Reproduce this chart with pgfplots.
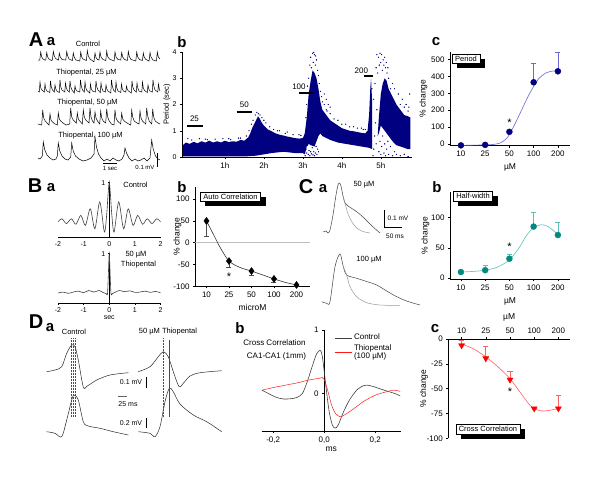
\documentclass[border=0pt]{standalone}
\usepackage{fontspec}
\setmainfont{Liberation Sans}
\usepackage{pgfplots}
\pgfplotsset{compat=1.18}
\usetikzlibrary{shadows}
\definecolor{navyb}{HTML}{000080}
\definecolor{fitblue}{HTML}{6A6AD0}
\definecolor{tealp}{HTML}{008B80}
\definecolor{tealfit}{HTML}{5CC0B8}
\definecolor{redp}{HTML}{FF0000}
\definecolor{redfit}{HTML}{FF6060}
\newcommand{\fs}[1]{\fontsize{#1}{#1}\selectfont}

\pgfplotsset{
  panel/.style={scale only axis, anchor=south west,
    axis x line*=bottom, axis y line*=left,
    tick align=outside, major tick length=2pt,
    tick style={black, line width=0.5pt},
    axis line style={black, line width=0.6pt},
    tick label style={font=\fs{8}},
    label style={font=\fs{8.5}},
    /pgf/number format/assume math mode=true, clip=false},
  catticks/.style={xtick={0,...,4}, xticklabels={10,25,50,100,200}},
  % rotated y label: right edge #1 left of the axis line
  ylab/.style={ylabel style={at={(axis description cs:0,0.5)}, anchor=south, yshift=#1}},
}
\tikzset{
  lbox/.style={draw=black, line width=0.5pt, fill=white, font=\fs{7.5},
    inner xsep=3pt, inner ysep=2pt,
    drop shadow={shadow xshift=5pt, shadow yshift=-5pt, fill=black, opacity=1}},
  plab/.style={font=\bfseries\fs{15}},
  big/.style={font=\bfseries\fs{20}},
  txt/.style={font=\fs{7.5}},
}

\begin{document}
\begin{tikzpicture}
\path[use as bounding box] (0,0) rectangle (600pt,491pt);

% ---------- A b : period vs time
\begin{axis}[panel, at={(182pt,334pt)}, width=230pt, height=105pt,
  xmin=-0.1, xmax=5.8, ymin=0, ymax=4, ytick={0,1,2,3,4},
  xtick={1,2,3,4,5}, xticklabels={1h,2h,3h,4h,5h},
  yticklabel style={font=\fs{7}}, ylabel={Period (sec)}, ylab=8pt,
  ylabel style={font=\fs{7.5}}]
\addplot[fill=navyb, draw=none] coordinates {
 (-0.08,0.45)(0,0.55)(0.1,0.5)(0.2,0.58)(0.3,0.52)(0.4,0.6)(0.5,0.55)(0.6,0.62)
 (0.7,0.55)(0.8,0.6)(0.9,0.55)(1.0,0.62)(1.1,0.57)(1.2,0.6)(1.3,0.58)(1.4,0.65)
 (1.5,0.62)(1.6,0.75)(1.65,0.9)(1.7,1.1)(1.75,1.25)(1.8,1.4)(1.85,1.55)(1.9,1.45)
 (1.95,1.3)(2.0,1.2)(2.1,1.05)(2.2,0.98)(2.3,0.9)(2.4,0.85)(2.5,0.82)(2.6,0.78)
 (2.7,0.75)(2.8,0.72)(2.9,0.7)(3.0,0.72)(3.05,0.9)(3.1,1.5)(3.15,2.4)(3.2,2.9)
 (3.25,3.3)(3.3,3.2)(3.35,3.0)(3.4,2.6)(3.45,2.1)(3.5,1.8)(3.6,1.6)(3.7,1.4)
 (3.8,1.3)(3.9,1.2)(4.0,1.1)(4.1,1.05)(4.2,1.0)(4.3,0.98)(4.4,0.95)(4.5,0.92)
 (4.6,0.9)(4.66,1.0)(4.7,1.6)(4.73,2.6)(4.75,3.0)(4.78,2.0)(4.78,0.3)
 (4.7,0.35)(4.5,0.4)(4.3,0.45)(4.1,0.5)(3.9,0.55)(3.7,0.65)(3.5,0.8)(3.45,0.9)
 (3.4,0.8)(3.35,0.6)(3.3,0.4)(3.2,0.45)(3.15,0.5)(3.1,0.4)(3.05,0.1)(3.0,0.15)
 (2.8,0.15)(2.5,0.2)(2.2,0.15)(2.0,0.1)(1.8,0.05)(1.5,0.02)(1.0,0.02)(0,0.02)(-0.08,0.02)
} --cycle;
\addplot[fill=navyb, draw=none] coordinates {
 (4.92,0.8)(4.95,1.5)(5.0,2.4)(5.05,2.8)(5.1,3.0)(5.15,2.9)(5.2,2.6)(5.3,2.3)
 (5.4,2.0)(5.5,1.8)(5.6,1.6)(5.7,1.55)(5.76,1.5)(5.76,0.3)
 (5.7,0.3)(5.6,0.35)(5.5,0.4)(5.4,0.45)(5.3,0.6)(5.2,0.8)(5.1,1.0)(5.0,1.2)(4.95,0.9)
} --cycle;
\addplot[only marks, mark=*, mark size=0.4pt, navyb] coordinates {
 (3.06,0.05)(3.08,0.3)(3.1,0.15)(3.12,0.45)(3.14,0.1)(3.16,0.25)(3.18,0.05)(3.2,0.2)
 (3.22,0.12)(3.24,0.35)(3.26,0.08)(3.28,0.2)(3.3,0.05)(3.32,0.15)(3.34,0.4)(3.36,0.1)
 (3.38,0.3)(3.4,0.2)(3.15,3.0)(3.18,3.5)(3.2,3.8)(3.22,3.4)(3.25,3.95)(3.27,3.6)
 (3.3,3.9)(3.32,3.5)(3.35,3.7)(3.38,3.3)(3.4,3.1)(3.42,2.8)(3.45,2.5)(3.48,2.3)
 (3.5,2.1)(3.12,2.7)(3.1,2.0)(3.08,1.5)(3.28,3.98)(3.33,3.85)
 (4.8,0.05)(4.82,0.3)(4.84,0.8)(4.86,1.3)(4.88,0.5)(4.9,1.8)(4.82,2.2)(4.85,2.8)
 (4.88,3.4)(4.9,3.9)(4.92,3.2)(4.94,3.8)(4.96,3.5)(4.98,3.95)(5.0,3.6)(5.02,3.9)
 (5.04,3.3)(5.06,3.7)(5.08,3.5)(5.1,3.8)(5.12,3.4)(5.14,3.6)(5.16,3.2)(5.18,3.4)
 (5.2,3.0)(4.95,0.2)(4.98,0.6)(5.0,0.1)(5.02,0.4)(5.05,0.8)(5.08,0.15)(5.1,0.5)
 (5.12,0.05)(5.15,0.3)(5.18,0.6)(5.2,0.1)(5.25,0.4)(5.3,0.05)(5.35,0.2)(5.4,0.1)
 (5.5,0.05)(5.6,0.1)(5.7,0.02)(5.3,2.8)(5.35,2.6)(5.45,2.4)(5.55,2.2)(5.65,2.0)
 (5.72,1.9)(5.74,2.4)(4.76,3.1)(4.77,2.6)(4.74,1.8)
 (1.78,1.6)(1.82,1.7)(1.86,1.65)(1.9,1.6)(1.95,1.5)(2.0,1.4)(2.05,1.3)(1.76,0.9)
 (1.77,0.5)(1.78,0.2)(0.05,0.7)(0.5,0.68)(1.1,0.7)(1.4,0.72)(2.4,1.0)(2.6,0.95)
 (2.9,0.85)(3.6,1.8)(3.7,1.65)(3.9,1.4)(4.1,1.25)(4.3,1.15)(4.5,1.1)(4.6,1.05)
 (3.55,2.0)(3.55,2.4)(3.6,2.2)(3.65,2.0)(3.7,1.9)
 (0.15,0.65)(0.35,0.7)(0.55,0.66)(0.75,0.68)(0.95,0.7)(1.15,0.66)(1.35,0.72)
 (1.55,0.8)(1.62,1.0)(1.68,1.25)(1.72,1.4)(2.15,1.15)(2.25,1.05)(2.35,1.0)
 (2.55,0.9)(2.75,0.85)(2.95,0.82)(3.62,1.75)(3.8,1.45)(4.0,1.25)(4.2,1.15)
 (4.4,1.1)(4.55,1.05)(5.25,2.6)(5.5,2.0)(5.6,1.9)(5.7,1.75)
};
\addplot[black, line width=1.5pt] coordinates {(0.03,1.18)(0.44,1.18)};
\addplot[black, line width=1.5pt] coordinates {(1.3,1.71)(1.7,1.71)};
\addplot[black, line width=1.5pt] coordinates {(2.9,2.44)(3.27,2.44)};
\addplot[black, line width=1.5pt] coordinates {(4.56,3.08)(4.79,3.08)};
\node[font=\fs{8}] at (axis cs:0.22,1.47) {25};
\node[font=\fs{8}] at (axis cs:1.5,2.0) {50};
\node[font=\fs{8}] at (axis cs:2.9,2.67) {100};
\node[font=\fs{8}] at (axis cs:4.5,3.3) {200};
\end{axis}

% ---------- A c : period % change
\begin{axis}[panel, catticks, at={(450pt,345.3pt)}, width=120pt, height=94pt,
  xmin=-0.45, xmax=4.5, ymin=-10, ymax=546, ytick={0,100,...,500},
  xlabel={µM}, ylabel={\% change}, ylab=19pt]
\addplot[fitblue, line width=0.6pt, smooth] coordinates {
 (0,-8)(0.5,-7)(1,-5)(1.3,-3)(1.6,5)(1.9,35)(2.2,110)(2.5,200)(2.8,290)
 (3.0,340)(3.2,385)(3.5,420)(3.8,432)(4,432)};
\addplot[only marks, mark=*, mark size=3pt, navyb,
  error bars/.cd, y dir=plus, y explicit,
  error bar style={fitblue, line width=0.7pt},
  error mark options={rotate=90, mark size=2.5pt, fitblue}]
 coordinates {(0,-8)+-(0,0) (1,-5)+-(0,0) (2,72)+-(0,12) (3,365)+-(0,115) (4,430)+-(0,115)};
\node[font=\fs{11}] at (axis cs:2,125) {*};
\end{axis}

% ---------- B a : autocorrelation
\begin{axis}[panel, at={(58pt,254pt)}, width=102.5pt, height=55pt,
  axis y line*=center, xmin=-2, xmax=2, ymin=-0.6, ymax=1,
  xtick={-2,-1,0,1,2}, ytick={1}, tick label style={font=\fs{7}},
  yticklabel style={xshift=1pt, yshift=-1pt}, major tick length=1.5pt]
\addplot[black!75, line width=0.6pt, smooth] coordinates {
 (-2,-0.16)(-1.85,-0.07)(-1.67,-0.21)(-1.48,-0.07)(-1.3,-0.23)(-1.11,0.03)
 (-0.93,-0.26)(-0.74,0.22)(-0.56,-0.36)(-0.37,0.42)(-0.19,-0.455)(-0.1,0.05)
 (-0.05,0.6)(0,1)(0.05,0.6)(0.1,0.05)(0.19,-0.455)(0.37,0.42)(0.56,-0.36)
 (0.74,0.22)(0.93,-0.26)(1.11,0.03)(1.3,-0.23)(1.48,-0.07)(1.67,-0.21)
 (1.85,-0.07)(2,-0.16)};
\end{axis}
\begin{axis}[panel, at={(58pt,188pt)}, width=102.5pt, height=50pt,
  axis y line*=center, xmin=-2, xmax=2, ymin=-0.6, ymax=1,
  xtick={-2,-1,0,1,2}, ytick={1}, tick label style={font=\fs{7}},
  yticklabel style={xshift=1pt, yshift=-1pt}, major tick length=1.5pt,
  xlabel={sec}, xlabel style={font=\fs{7}, yshift=4pt}]
\addplot[black!75, line width=0.6pt, smooth] coordinates {
 (-2,-0.28)(-1.8,-0.25)(-1.6,-0.29)(-1.4,-0.25)(-1.2,-0.22)(-1.0,-0.27)
 (-0.8,-0.2)(-0.6,-0.25)(-0.4,-0.2)(-0.25,-0.26)(-0.12,-0.3)(-0.07,-0.32)
 (-0.04,0.2)(0,0.98)(0.04,0.2)(0.07,-0.32)(0.12,-0.3)(0.25,-0.25)(0.4,-0.2)
 (0.6,-0.24)(0.8,-0.21)(1.0,-0.26)(1.2,-0.25)(1.4,-0.22)(1.6,-0.26)
 (1.8,-0.23)(2,-0.27)};
\end{axis}

% ---------- B b : auto correlation % change
\begin{axis}[panel, catticks, at={(195pt,204.7pt)}, width=115pt, height=99.3pt,
  xmin=-0.51, xmax=4.6, ymin=-100, ymax=128, ytick={-100,-50,0,50,100},
  xlabel={microM}, ylabel={\% change}, ylab=10pt]
\addplot[black!25, line width=0.8pt] coordinates {(-0.51,0)(4.6,0)};
\addplot[black!80, line width=0.6pt, smooth] coordinates {
 (0,50)(0.3,20)(0.6,-10)(1,-42)(1.5,-57)(2,-65)(2.5,-74)(3,-83)(3.5,-91)(4,-97)};
\addplot[only marks, mark=diamond*, mark size=3.5pt, black,
  error bars/.cd, y dir=minus, y explicit,
  error bar style={black!70, line width=0.6pt},
  error mark options={rotate=90, mark size=2.5pt, black!70}]
 coordinates {(0,50)+-(0,35) (1,-42)+-(0,15) (2,-65)+-(0,10) (3,-83)+-(0,7) (4,-97)+-(0,3)};
\node[font=\fs{11}] at (axis cs:1,-79) {*};
\end{axis}

% ---------- C b : half-width % change
\begin{axis}[panel, catticks, at={(450pt,211.7pt)}, width=120pt, height=87.3pt,
  xmin=-0.45, xmax=4.5, ymin=-2, ymax=142, ytick={0,50,100},
  xlabel={µM}, ylabel={\% change}, ylab=17pt]
\addplot[tealfit, line width=0.6pt, smooth] coordinates {
 (0,10)(0.5,11)(1,13)(1.5,18)(2,30)(2.4,50)(2.7,70)(3,83)(3.3,88)(3.6,85)(4,72)};
\addplot[only marks, mark=*, mark size=3pt, tealp,
  error bars/.cd, y dir=plus, y explicit,
  error bar style={tealfit, line width=0.7pt},
  error mark options={rotate=90, mark size=2.5pt, tealfit}]
 coordinates {(0,10)+-(0,2) (1,13)+-(0,9) (2,32)+-(0,8) (3,85)+-(0,23) (4,71)+-(0,21)};
\node[font=\fs{11}] at (axis cs:2,52) {*};
\end{axis}

% ---------- D b : cross correlation traces
\begin{axis}[panel, at={(261.7pt,59.7pt)}, width=139pt, height=101.3pt,
  axis y line*=center, xmin=-0.245, xmax=0.3, ymin=-0.6, ymax=1,
  xtick={-0.2,0,0.2}, xticklabels={-0{,}2,0{,}0,0{,}2}, ytick={0,1},
  xlabel={ms}, xlabel style={yshift=3pt},
  legend style={draw=none, fill=none, font=\fs{8}, at={(axis description cs:0.5,1.0)},
    anchor=north west, cells={align=left}, row sep=-1pt}, legend cell align=left]
\addplot[black!75, line width=0.6pt, smooth] coordinates {
 (-0.244,0.05)(-0.22,0.0)(-0.19,-0.06)(-0.16,-0.09)(-0.13,-0.085)(-0.107,-0.065)
 (-0.085,0.0)(-0.065,0.2)(-0.045,0.45)(-0.03,0.62)(-0.016,0.68)(-0.008,0.6)
 (0.0,0.35)(0.01,0.0)(0.02,-0.3)(0.032,-0.5)(0.043,-0.55)(0.055,-0.5)(0.075,-0.3)
 (0.1,-0.1)(0.13,0.06)(0.154,0.12)(0.167,0.13)(0.19,0.11)(0.22,0.07)(0.25,0.03)
 (0.275,0.0)(0.298,-0.04)};
\addlegendentry{Control}
\addplot[red!90, line width=0.5pt, smooth] coordinates {
 (-0.244,0.05)(-0.2,0.09)(-0.15,0.13)(-0.1,0.17)(-0.06,0.21)(-0.03,0.23)
 (-0.016,0.24)(-0.008,0.25)(0.0,0.22)(0.01,0.1)(0.02,-0.05)(0.03,-0.2)(0.045,-0.32)
 (0.063,-0.37)(0.08,-0.34)(0.11,-0.26)(0.154,-0.13)(0.2,-0.03)(0.24,0.02)
 (0.272,0.05)(0.298,0.03)};
\addlegendentry{Thiopental\\(100 µM)}
\end{axis}

% ---------- D c : cross correlation % change
\begin{axis}[panel, catticks, at={(448.3pt,52.7pt)}, width=121.7pt, height=99.3pt,
  axis x line*=top, xmin=-0.55, xmax=4.48, ymin=-100, ymax=0,
  ytick={-100,-75,-50,-25,0}, xlabel={µM}, ylabel={\% change}, ylab=17pt]
\addplot[redfit, line width=0.6pt, smooth] coordinates {
 (0,-5)(0.5,-10)(1,-18)(1.5,-28)(2,-40)(2.4,-53)(2.8,-66)(3,-70)(3.3,-72.5)(3.6,-72)(4,-70)};
\addplot[only marks, mark=triangle*, mark options={rotate=180}, mark size=3.5pt, redp,
  error bars/.cd, y dir=plus, y explicit,
  error bar style={redfit, line width=0.7pt},
  error mark options={rotate=90, mark size=2.5pt, redfit}]
 coordinates {(0,-6.5)+-(0,5.5) (1,-19.5)+-(0,12.5) (2,-41)+-(0,9) (3,-70)+-(0,0) (4,-70)+-(0,13)};
\node[font=\fs{11}] at (axis cs:2,-53) {*};
\end{axis}

% ---------- canvas for traces and labels (pixel coordinates)
\begin{axis}[scale only axis, anchor=south west, at={(0pt,0pt)}, width=600pt, height=491pt,
  xmin=0, xmax=600, ymin=0, ymax=491, y dir=reverse, hide axis, clip=false]
% A a traces
\addplot[black, line width=0.5pt] coordinates {
 (38,60)(39.8,60)(40.7,52)(41.7,57)(43,59)(45,60)(45.8,60)(46.7,52.5)(47.7,57)(49,59)
 (51.5,60.5)(52.4,60)(53.3,51.5)(54.3,56)(55.6,58.5)(58,60)(58.5,60)(59.3,53)(60.3,57)
 (62,59.5)(65.5,60)(65.8,60)(66.7,51.5)(67.7,56)(69,59)(72.3,60.5)(72.4,60.5)(73.3,53)
 (74.3,57.5)(76,60)(79.7,61)(79.8,61)(80.7,52)(81.7,57)(83,59)(86.3,60.5)(86.4,60.5)
 (87.3,50.5)(88.3,56)(90,59)(93.5,61.5)(94,61.5)(95,53)(96,57.5)(97.5,59.5)(99,60)
 (100,52)(101,57)(103,59.5)(105.7,60.5)(105.8,60.5)(106.7,51)(107.7,56.5)(109.5,59)
 (114,61)(114.1,61)(115,52)(116,57)(118,59.5)(120.7,60)(120.8,60)(121.7,52.5)(122.7,57)
 (124.5,59.5)(127.4,60.5)(128.3,51.5)(129.3,56.5)(131,59.5)(135.7,61)(135.8,61)
 (136.7,52)(137.7,57)(139.5,59.5)(142.4,60.5)(143.3,53)(144.3,57.5)(146,59.5)(149,61)
 (149.1,61)(150,52.5)(151,57)(153,60)(156.4,61)(157.3,52)(158.3,57)(160,59)};
\addplot[black, line width=0.5pt] coordinates {
 (38,91)(39.3,92)(40,82)(40.8,88)(42,90)(44.3,92)(45,84)(45.8,89)(47,91)(49.8,92.5)
 (50.5,81)(51.3,87)(52.5,90)(54.3,92)(55,85)(55.8,89)(57,91)(59.3,92.5)(60,80)(60.8,87)
 (62,90)(64.8,92)(65.5,83)(66.3,88)(67.5,90.5)(69.3,92)(70,81)(70.8,87)(72,90)(74.3,93)
 (75,86)(75.8,89.5)(77,91)(79.8,92)(80.5,80)(81.3,86)(82.5,90)(84.3,92)(85,82)(85.8,88)
 (87,90.5)(89.8,93)(90.5,84)(91.3,89)(92.5,91)(95.3,92)(96,81)(96.8,87)(98,90)
 (100.3,92.5)(101,83)(101.8,88)(103,91)(105.3,92)(106,85)(106.8,89)(108,91)(110.8,93)
 (111.5,80)(112.3,86)(113.5,90)(115.3,92)(116,82)(116.8,88)(118,91)(120.8,92.5)
 (121.5,84)(122.3,89)(123.5,91)(125.8,92)(126.5,86)(127.3,89.5)(128.5,91)(131.3,93)
 (132,81)(132.8,87)(134,90)(136.3,92)(137,83)(137.8,88)(139,91)(141.8,92)(142.5,82)
 (143.3,88)(144.5,90.5)(147.3,92.5)(148,85)(148.8,89)(150,91)(152.3,92)(153,80)
 (153.8,86)(155,90)(157.8,92)(158.5,84)(159.3,89)(160,91)};
\addplot[black, line width=0.5pt] coordinates {
 (38,124)(41.7,125)(42.7,110)(43.7,118)(45.2,121)(48,124)(49,125)(50,114)(51,120)
 (52.5,122)(55,124)(57.3,125)(58.3,113)(59.3,119)(60.8,121)(63,123)(66,125)(69.7,124)
 (70.7,108)(71.7,117)(73.2,120)(76.3,123)(77.3,113)(78.3,119)(79.8,121)(82.3,124)
 (83.3,110)(84.3,117)(85.8,120)(89,123)(90,108)(91,117)(92.5,121)(94,123)(95,112)
 (96,118)(97.5,121)(99.7,124)(100.7,111)(101.7,118)(103.2,121)(105.7,123)(106.7,109)
 (107.7,117)(109.2,121)(111.5,124)(114,125)(115,110)(116,118)(117.5,121)(120.7,124)
 (121.7,113)(122.7,119)(124.2,121)(127,123)(130.7,125)(131.7,110)(132.7,117)(134.2,121)
 (137,123)(139,124)(140,111)(141,118)(142.5,121)(145.7,124)(146.7,108)(147.7,116)
 (149.2,121)(151.7,124)(152.7,109)(153.7,117)(155.2,121)(158,123)(160,124)};
\addplot[black, line width=0.5pt] coordinates {
 (38,158)(40,159)(42.3,156)(43.3,142)(44.8,150)(47,155)(50,158)(53,160)(56,159)
 (57.3,156)(58.3,143)(59.8,151)(62,156)(65,159)(68,160)(70.7,157)(71.7,143)(73.2,151)
 (75.5,156)(79,159)(83,161)(87,160)(91,158)(94,154)(95,137)(96.5,147)(98.5,154)
 (101,158)(104,161)(107,159)(110,161)(113,158)(116,160)(119,161)(122,159)(124,155)
 (125,148)(126.5,153)(129,158)(132,161)(135,159)(138,161)(141,160)(144,158)(147,161)
 (150,158)(151.7,140)(153.2,149)(155.5,156)(158,159)(160,160)};
% C a traces
\addplot[black!75, line width=0.5pt, smooth] coordinates {
 (323,232)(326,231)(328,233)(330,230)(333,215)(336,195)(338,185)(339.5,183)(341,186)
 (343,196)(345,203)(348,206)(356.7,211.7)(364,218)(372,226)(380,233)};
\addplot[black!40, line width=0.5pt, smooth] coordinates {
 (343,196)(345,203)(348,214)(352,222)(356.7,228)(363,231.5)(370,233)};
\addplot[black!75, line width=0.5pt, smooth] coordinates {
 (321.7,301.7)(326.7,303.3)(330,301.7)(335,266.7)(340,254)(343.3,266.7)(346.7,275)
 (356.7,278.3)(366.7,281.5)(376.7,285)(386.7,291)(396.7,296.7)(408,301.5)(420,305)};
\addplot[black!40, line width=0.5pt, smooth] coordinates {
 (343.3,266.7)(346.7,275)(350,286.7)(356.7,296.7)(366.7,302.7)(380,305)(400,305.5)};
% D a traces
\addplot[black!85, line width=0.5pt, smooth] coordinates {
 (46.7,371.7)(55,370)(61.7,366.7)(66.7,353.3)(71.7,345)(75,346.7)(78.3,360)(83.3,387)
 (87.3,386)(96.7,380)(110,375)(128.3,372.7)};
\addplot[black!85, line width=0.5pt, smooth] coordinates {
 (46.7,431.7)(55,433.3)(61.7,436.7)(66.7,420)(71.7,400)(74,395)(78.3,400)(83.3,421.7)
 (88.3,426)(100,428.3)(113.3,431.7)(128.3,435)};
\addplot[black!85, line width=0.5pt, smooth] coordinates {
 (138.3,371.7)(150,366.7)(158.3,356.7)(163.3,351.7)(168.3,356.7)(173.3,371.7)(179,386.5)
 (183.3,383.3)(190,376)(200,372.7)(221.7,370.7)};
\addplot[black!85, line width=0.5pt, smooth] coordinates {
 (138.3,431.7)(150,433.3)(155,436.7)(160,426.7)(165,401.7)(169.3,388.3)(173.3,391.7)
 (180,404)(193.3,415)(206.7,421.7)(221.7,431.7)};
% dotted markers D a
\draw[black!70, densely dotted, line width=0.5pt] (axis cs:71.7,338.3) -- (axis cs:71.7,416.7);
\draw[black!70, densely dotted, line width=0.5pt] (axis cs:73.3,338.3) -- (axis cs:73.3,416.7);
\draw[black!70, densely dotted, line width=0.5pt] (axis cs:75,338.3) -- (axis cs:75,416.7);
\draw[black!70, densely dotted, line width=0.5pt] (axis cs:163.3,338.3) -- (axis cs:163.3,416.7);
\draw[black!70, line width=0.4pt] (axis cs:169.3,340) -- (axis cs:169.3,416.7);
% scale bars
\draw[black, line width=0.8pt] (axis cs:103,163) -- (axis cs:117,163);
\draw[black, line width=0.8pt] (axis cs:157.5,153) -- (axis cs:157.5,167);
\draw[black, line width=0.6pt] (axis cs:384,210) -- (axis cs:384,227) -- (axis cs:402,227);
\draw[black, line width=0.8pt] (axis cs:146.7,376.7) -- (axis cs:146.7,388.3);
\draw[black!60, line width=1pt] (axis cs:118,396.7) -- (axis cs:127,396.7);
\draw[black, line width=0.8pt] (axis cs:146.7,418) -- (axis cs:146.7,428);
% panel letters
\node[big] at (axis cs:36,40) {A};
\node[plab] at (axis cs:51,42) {a};
\node[plab] at (axis cs:182,42) {b};
\node[plab] at (axis cs:436,42) {c};
\node[big] at (axis cs:35,186) {B};
\node[plab] at (axis cs:51,188) {a};
\node[plab] at (axis cs:182,187) {b};
\node[big] at (axis cs:306,187) {C};
\node[plab] at (axis cs:323,189) {a};
\node[plab] at (axis cs:437,187) {b};
\node[big] at (axis cs:36,322) {D};
\node[plab] at (axis cs:50,328) {a};
\node[plab] at (axis cs:240,328) {b};
\node[plab] at (axis cs:435,329) {c};
% texts
\node[txt] at (axis cs:88,44) {Control};
\node[txt] at (axis cs:86.5,73) {Thiopental, 25 µM};
\node[txt] at (axis cs:87.5,103) {Thiopental, 50 µM};
\node[txt] at (axis cs:90.5,136) {Thiopental, 100 µM};
\node[font=\fs{6}] at (axis cs:110,168) {1 sec};
\node[font=\fs{6}] at (axis cs:145,167) {0.1 mV};
\node[txt] at (axis cs:135.5,185) {Control};
\node[txt] at (axis cs:136,255) {50 µM};
\node[txt] at (axis cs:138.5,265) {Thiopental};
\node[txt] at (axis cs:364,185) {50 µM};
\node[font=\fs{6.5}] at (axis cs:398,218) {0.1 mV};
\node[font=\fs{6.5}] at (axis cs:395,236) {50 ms};
\node[txt] at (axis cs:369,260) {100 µM};
\node[txt] at (axis cs:74,332) {Control};
\node[txt] at (axis cs:168,332) {50 µM Thiopental};
\node[font=\fs{7}] at (axis cs:131,381.7) {0.1 mV};
\node[font=\fs{7}] at (axis cs:128,404) {25 ms};
\node[font=\fs{7}] at (axis cs:131,422.7) {0.2 mV};
\node[font=\fs{8}] at (axis cs:274.5,342.7) {Cross Correlation};
\node[font=\fs{8}] at (axis cs:276.5,356.7) {CA1-CA1 (1mm)};
% boxed labels with shadow
\node[lbox] at (axis cs:466,58.5) {Period};
\node[lbox] at (axis cs:230.5,196.5) {Auto Correlation};
\node[lbox] at (axis cs:473,196) {Half-width};
\node[lbox] at (axis cs:488,429) {Cross Correlation};
\end{axis}
\end{tikzpicture}
\end{document}
